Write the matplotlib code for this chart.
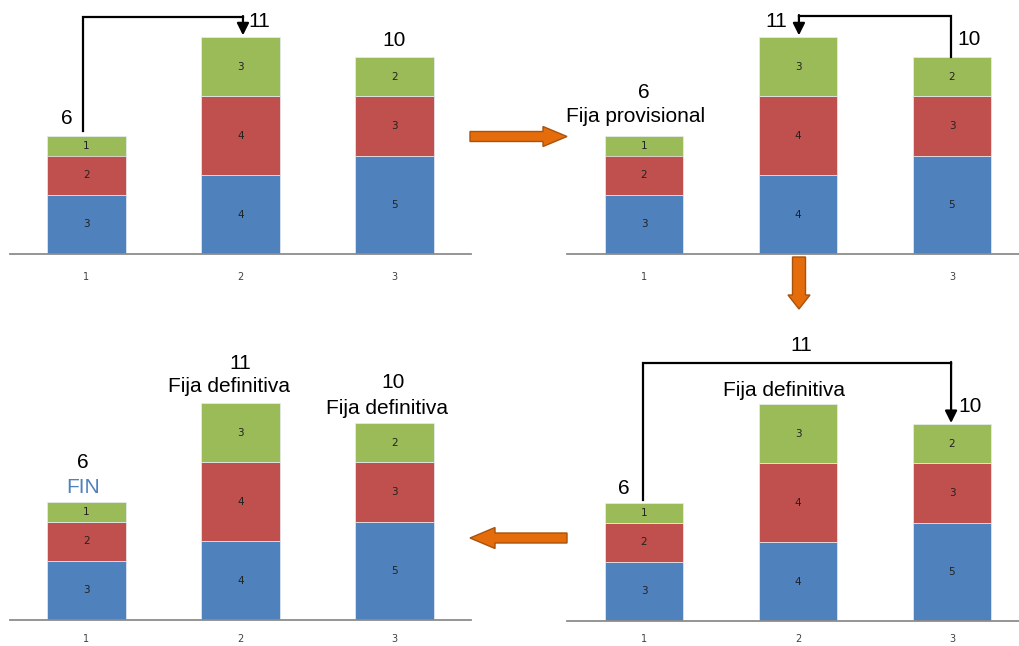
import numpy as np
import matplotlib.pyplot as plt
from matplotlib.patches import FancyArrow

plt.rcParams['font.family'] = ['Liberation Sans', 'DejaVu Sans']

# datos de las tres columnas apiladas
categorias = [1, 2, 3]
azul = [3, 4, 5]
rojo = [2, 4, 3]
verde = [1, 3, 2]
totales = [a + r + v for a, r, v in zip(azul, rojo, verde)]

C_AZUL = '#4F81BD'
C_ROJO = '#C0504D'
C_VERDE = '#9BBB59'
C_NARANJA = '#E46C0A'

W, H = 1020, 646
PX_UNIDAD = 19.7   # pixeles por unidad en el eje y
PX_CAT = 154       # pixeles por categoria

fig = plt.figure(figsize=(W / 100, H / 100), dpi=100)


def panel(izq, base, arriba, pad=13):
    ax = fig.add_axes([izq / W, (H - base) / H, 3 * PX_CAT / W, (base - arriba) / H])
    ax.set_xlim(0.5, 3.5)
    ax.set_ylim(0, (base - arriba) / PX_UNIDAD)
    x = np.array(categorias)
    fondo = np.zeros(3)
    for serie, color in [(azul, C_AZUL), (rojo, C_ROJO), (verde, C_VERDE)]:
        serie = np.array(serie)
        ax.bar(x, serie, bottom=fondo, width=0.51, color=color,
               edgecolor='#e8eef5', linewidth=0.5)
        for xi, b, v in zip(x, fondo, serie):
            ax.text(xi, b + v / 2, str(v), ha='center', va='center',
                    fontsize=7.5, color='#222222', family='DejaVu Sans')
        fondo = fondo + serie
    for s in ['top', 'right', 'left']:
        ax.spines[s].set_visible(False)
    ax.spines['bottom'].set_color('#8c8c8c')
    ax.spines['bottom'].set_linewidth(1.3)
    ax.set_yticks([])
    ax.set_xticks(categorias)
    ax.set_xticklabels([str(c) for c in categorias], fontsize=7,
                       color='#404040', family='DejaVu Sans')
    ax.tick_params(axis='x', length=0, pad=pad)
    ax.patch.set_alpha(0)
    return ax


def conector(ax, x0, y0, x1, ytop, ypunta):
    ax.plot([x0, x0, x1], [y0, ytop, ytop], color='k', lw=1.6, clip_on=False,
            solid_joinstyle='miter')
    ax.annotate('', xy=(x1, ypunta), xytext=(x1, ytop + 0.05),
                arrowprops=dict(arrowstyle='-|>', lw=1.6, color='k',
                                mutation_scale=18, shrinkA=0, shrinkB=0),
                annotation_clip=False)


def etiqueta(ax, x, y, txt, color='k'):
    ax.text(x, y, txt, ha='center', va='center', fontsize=15, color=color)


# panel superior izquierdo
ax1 = panel(9.5, 254, 0)
etiqueta(ax1, 0.873, totales[0] + 0.9, str(totales[0]))
etiqueta(ax1, 2.12, totales[1] + 0.78, str(totales[1]))
etiqueta(ax1, 3.0, totales[2] + 0.86, str(totales[2]))
conector(ax1, 0.977, totales[0] + 0.24, 2.016, 12.03, totales[1] + 0.1)

# panel superior derecho
ax2 = panel(567, 254, 0)
etiqueta(ax2, 1.0, totales[0] + 2.22, str(totales[0]))
etiqueta(ax2, 0.948, totales[0] + 1.0, 'Fija provisional')
etiqueta(ax2, 1.857, totales[1] + 0.78, str(totales[1]))
etiqueta(ax2, 3.11, totales[2] + 0.91, str(totales[2]))
conector(ax2, 2.994, totales[2], 2.006, 12.08, totales[1] + 0.1)

# panel inferior izquierdo
ax3 = panel(9.5, 620, 340, pad=10)
etiqueta(ax3, 0.977, totales[0] + 1.97, str(totales[0]))
etiqueta(ax3, 0.977, totales[0] + 0.75, 'FIN', color=C_AZUL)
etiqueta(ax3, 2.0, totales[1] + 2.0, str(totales[1]))
etiqueta(ax3, 1.925, totales[1] + 0.83, 'Fija definitiva')
etiqueta(ax3, 2.99, totales[2] + 2.08, str(totales[2]))
etiqueta(ax3, 2.95, totales[2] + 0.76, 'Fija definitiva')

# panel inferior derecho
ax4 = panel(567, 621, 330, pad=9.5)
etiqueta(ax4, 2.02, 13.96, str(totales[1]))
etiqueta(ax4, 1.909, totales[1] + 0.68, 'Fija definitiva')
etiqueta(ax4, 0.87, totales[0] + 0.75, str(totales[0]))
etiqueta(ax4, 3.12, totales[2] + 0.91, str(totales[2]))
conector(ax4, 0.994, totales[0] + 0.14, 2.994, 13.1, totales[2] + 0.05)

# flechas naranjas entre paneles (coordenadas en pixeles), por encima de todo
ax0 = fig.add_axes([0, 0, 1, 1], zorder=10)
ax0.set_xlim(0, W)
ax0.set_ylim(H, 0)
ax0.axis('off')
flechas = [
    (470, 136.5, 97, 0, 10, 20, 24),
    (799, 257, 0, 52, 13, 22, 14),
    (567, 538, -97, 0, 10, 21, 25),
]
for x, y, dx, dy, ancho, cabeza, largo in flechas:
    ax0.add_patch(FancyArrow(x, y, dx, dy, width=ancho, head_width=cabeza,
                             head_length=largo, length_includes_head=True,
                             fc=C_NARANJA, ec='#A9520C', lw=1.0))

fig.savefig('out.png', dpi=100)
